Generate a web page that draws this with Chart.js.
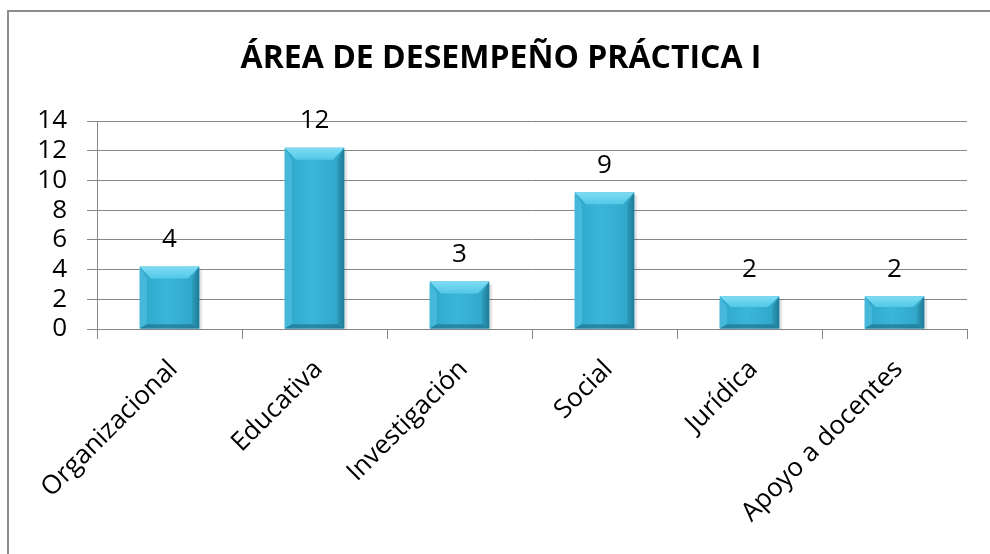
<!DOCTYPE html>
<html>
<head>
<meta charset="utf-8">
<script src="https://cdn.jsdelivr.net/npm/chart.js@4.4.1/dist/chart.umd.min.js"></script>
<style>
html,body{margin:0;padding:0;background:#fff;}
#wrap{position:relative;width:990px;height:554px;}
</style>
</head>
<body>
<div id="wrap"><canvas id="c" width="990" height="554"></canvas></div>
<script>
const titleText = 'ÁREA DE DESEMPEÑO PRÁCTICA I';
const categories = ['Organizacional', 'Educativa', 'Investigación', 'Social', 'Jurídica', 'Apoyo a docentes'];
const values = [4, 12, 3, 9, 2, 2];
const yTicks = [0, 2, 4, 6, 8, 10, 12, 14];

const FONT = "'Open Sans', 'Liberation Sans', sans-serif";

const frame = {
  id: 'frame',
  beforeDraw(chart) {
    const ctx = chart.ctx;
    ctx.save();
    ctx.fillStyle = '#8c8c8c';
    ctx.fillRect(7, 10, 983, 2);
    ctx.fillRect(7, 10, 2, 544);
    ctx.restore();
  }
};

const bevel = {
  id: 'bevel',
  afterDatasetsDraw(chart) {
    const ctx = chart.ctx;
    const meta = chart.getDatasetMeta(0);
    meta.data.forEach((el) => {
      const p = el.getProps(['x', 'y', 'base', 'width'], true);
      const l = p.x - p.width / 2, r = p.x + p.width / 2, t = p.y - 3, b = p.base;
      const h = b - t, w = r - l;
      const bv = Math.min(12, h / 3), sv = Math.min(7, w / 8);
      ctx.save();
      // shadow
      ctx.fillStyle = 'rgba(0,0,0,0.10)';
      ctx.fillRect(r, t + 3, 3, h - 2);
      // body gradient
      let g = ctx.createLinearGradient(l, 0, r, 0);
      g.addColorStop(0, '#2ea6c9');
      g.addColorStop(0.45, '#3ab6da');
      g.addColorStop(1, '#2fa4c6');
      ctx.fillStyle = g;
      ctx.fillRect(l, t, w, h);
      // top bevel
      g = ctx.createLinearGradient(0, t, 0, t + bv);
      g.addColorStop(0, '#7fdcf3');
      g.addColorStop(1, '#52c8e7');
      ctx.fillStyle = g;
      ctx.beginPath();
      ctx.moveTo(l, t); ctx.lineTo(r, t); ctx.lineTo(r - sv * 1.6, t + bv); ctx.lineTo(l + sv * 1.6, t + bv); ctx.closePath();
      ctx.fill();
      // left bevel
      ctx.fillStyle = 'rgba(100,205,235,0.45)';
      ctx.beginPath();
      ctx.moveTo(l, t); ctx.lineTo(l + sv, t + bv); ctx.lineTo(l + sv, b - sv * 0.6); ctx.lineTo(l, b); ctx.closePath();
      ctx.fill();
      // right bevel
      g = ctx.createLinearGradient(r - sv, 0, r, 0);
      g.addColorStop(0, 'rgba(30,110,135,0.25)');
      g.addColorStop(1, 'rgba(20,95,120,0.6)');
      ctx.fillStyle = g;
      ctx.beginPath();
      ctx.moveTo(r, t); ctx.lineTo(r - sv, t + bv); ctx.lineTo(r - sv, b - sv * 0.6); ctx.lineTo(r, b); ctx.closePath();
      ctx.fill();
      // bottom bevel
      ctx.fillStyle = 'rgba(25,100,125,0.55)';
      ctx.beginPath();
      ctx.moveTo(l, b); ctx.lineTo(l + sv, b - sv * 0.6); ctx.lineTo(r - sv, b - sv * 0.6); ctx.lineTo(r, b); ctx.closePath();
      ctx.fill();
      ctx.restore();
    });
  }
};

const valueLabels = {
  id: 'valueLabels',
  afterDatasetsDraw(chart) {
    const ctx = chart.ctx;
    const meta = chart.getDatasetMeta(0);
    ctx.save();
    ctx.font = '26px ' + FONT;
    ctx.fillStyle = '#000';
    ctx.textAlign = 'center';
    ctx.textBaseline = 'middle';
    meta.data.forEach((el, i) => {
      ctx.fillText(String(values[i]), el.x, el.y - 30);
    });
    ctx.restore();
  }
};

new Chart(document.getElementById('c'), {
  type: 'bar',
  data: {
    labels: categories,
    datasets: [{
      data: values,
      backgroundColor: '#36b2d6',
      borderWidth: 0,
      barPercentage: 0.41,
      categoryPercentage: 1
    }]
  },
  options: {
    responsive: false,
    animation: false,
    devicePixelRatio: 1,
    layout: { padding: { left: 35, right: 23, top: 0, bottom: 0 } },
    plugins: {
      legend: { display: false },
      tooltip: { enabled: false },
      title: {
        display: true,
        text: titleText,
        color: '#000',
        font: { family: FONT, size: 32, weight: 'bold', lineHeight: 1.2 },
        padding: { top: 40, bottom: 42.6 }
      }
    },
    scales: {
      y: {
        min: 0, max: 14,
        afterBuildTicks(s) { s.ticks = yTicks.map(v => ({ value: v })); },
        afterFit(s) { s.width = 62; },
        ticks: { color: '#000', font: { family: FONT, size: 26 }, padding: 20, autoSkip: false, stepSize: 2 },
        grid: { color: '#868686', lineWidth: 1, tickLength: 10, drawTicks: true },
        border: { color: '#868686', width: 1 }
      },
      x: {
        afterFit(s) { s.height = 225; },
        ticks: { color: '#000', font: { family: FONT, size: 26 }, maxRotation: 45, minRotation: 45, padding: 15, labelOffset: 4, autoSkip: false },
        grid: { drawOnChartArea: false, drawTicks: true, tickLength: 10, color: '#868686' },
        border: { color: '#868686', width: 1 }
      }
    }
  },
  plugins: [frame, bevel, valueLabels]
});
</script>
</body>
</html>
